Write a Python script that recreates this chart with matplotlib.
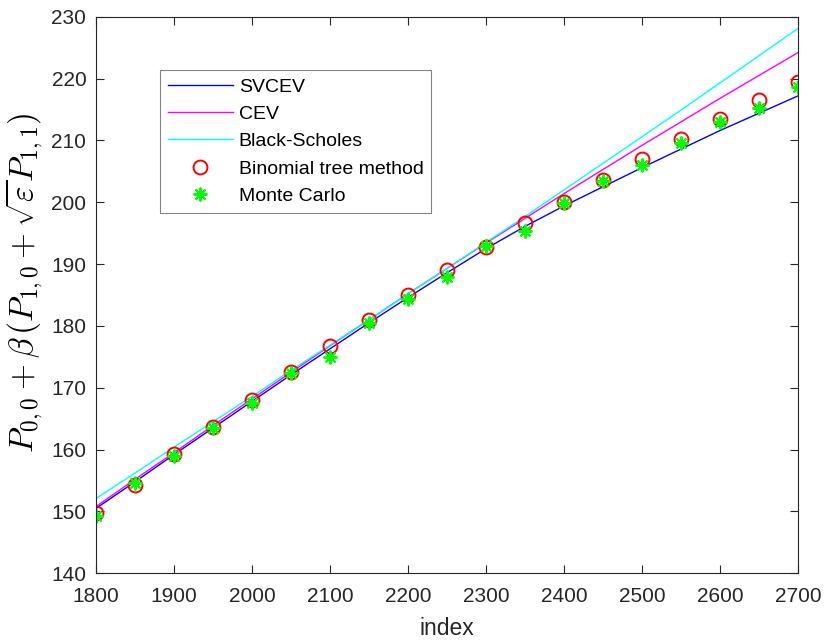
import numpy as np
import matplotlib
matplotlib.use("Agg")
import matplotlib.pyplot as plt

plt.rcParams["font.family"] = ["Liberation Sans", "DejaVu Sans"]
plt.rcParams["mathtext.fontset"] = "cm"

# data
index = [1800, 1850, 1900, 1950, 2000, 2050, 2100, 2150, 2200, 2250,
         2300, 2350, 2400, 2450, 2500, 2550, 2600, 2650, 2700]

svcev = [150.5, 154.8, 159.2, 163.5, 167.8, 172.1, 176.3, 180.5, 184.6, 188.6,
         192.5, 196.1, 199.4, 202.5, 205.6, 208.6, 211.6, 214.4, 217.2]
cev = [150.8, 155.2, 159.5, 163.9, 168.2, 172.5, 176.8, 181.0, 185.2, 189.3,
       193.4, 197.4, 201.4, 205.3, 209.2, 213.0, 216.8, 220.5, 224.2]
black_scholes = [152.1, 156.2, 160.4, 164.5, 168.6, 172.8, 176.9, 181.0, 185.2, 189.3,
                 193.5, 197.7, 202.0, 206.3, 210.6, 214.9, 219.3, 223.7, 228.1]
binomial = [149.7, 154.3, 159.3, 163.7, 168.1, 172.6, 176.8, 181.0, 185.0, 189.0,
            192.8, 196.6, 200.1, 203.6, 207.0, 210.3, 213.5, 216.5, 219.5]
monte_carlo = [149.2, 154.6, 159.0, 163.5, 167.5, 172.4, 175.0, 180.4, 184.3, 187.9,
               192.9, 195.4, 199.9, 203.5, 206.0, 209.5, 212.9, 215.3, 218.7]

xticks = [1800, 1900, 2000, 2100, 2200, 2300, 2400, 2500, 2600, 2700]
yticks = [140, 150, 160, 170, 180, 190, 200, 210, 220, 230]

fig = plt.figure(figsize=(8.25, 6.43), dpi=100)
ax = fig.add_axes([0.1164, 0.1084, 0.8509, 0.8656])

ax.plot(index, svcev, color=(0, 0, 1), lw=1.0, label="SVCEV")
ax.plot(index, cev, color=(1, 0, 1), lw=1.0, label="CEV")
ax.plot(index, black_scholes, color=(0, 1, 1), lw=1.0, label="Black-Scholes")
ax.plot(index, binomial, linestyle="none", marker="o", markersize=10,
        markerfacecolor="none", markeredgecolor=(1, 0, 0), markeredgewidth=1.4,
        label="Binomial tree method")
ax.plot(index, monte_carlo, linestyle="none", marker=(8, 2, 0), markersize=10,
        markeredgecolor=(0, 1, 0), markeredgewidth=1.4, color=(0, 1, 0),
        label="Monte Carlo")

ax.set_xlim(1800, 2700)
ax.set_ylim(140, 230)
ax.set_xticks(xticks)
ax.set_yticks(yticks)

grey = (0.15, 0.15, 0.15)
for s in ax.spines.values():
    s.set_color(grey)
    s.set_linewidth(0.8)
ax.tick_params(direction="in", top=True, right=True, length=6, width=0.8,
               colors=grey, labelsize=15)
ax.tick_params(axis="x", pad=10)
ax.tick_params(axis="y", pad=7)

ax.set_xlabel("index", fontsize=16.5, color=grey, labelpad=8)
ax.set_ylabel(r"$P_{0,0}+\beta\,(P_{1,0}+\sqrt{\varepsilon}P_{1,1})$",
              fontsize=24, color="black")
ax.yaxis.set_label_coords(-0.073, 0.522)

leg = ax.legend(loc="upper left", bbox_to_anchor=(0.0912, 0.904), fontsize=14,
                frameon=True, fancybox=False, borderpad=0.4, labelspacing=0.5,
                handlelength=3.35, handletextpad=0.3, borderaxespad=0)
leg.get_frame().set_edgecolor((0.4, 0.4, 0.4))
leg.get_frame().set_linewidth(0.8)
for t in leg.get_texts():
    t.set_color("black")

fig.savefig("out.png", dpi=100)
